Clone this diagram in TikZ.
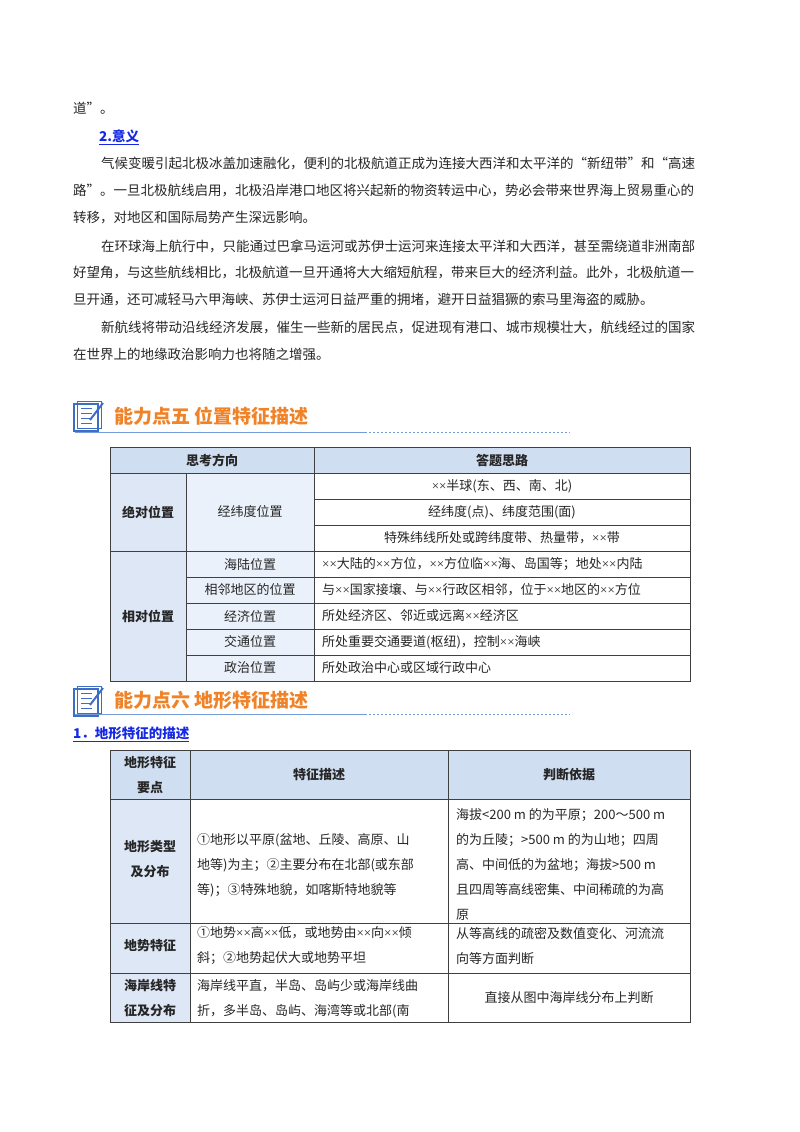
\documentclass[tikz,border=0pt]{standalone}
\usepackage{fontspec}
\setmainfont{Noto Sans CJK SC}
\newfontfamily\lat{Liberation Serif}
\newcommand\XX{{\lat\char"D7\char"D7}}
\XeTeXlinebreaklocale "zh"
\XeTeXlinebreakskip=0pt plus 3pt
\definecolor{hdr}{RGB}{208,222,242}
\definecolor{side}{RGB}{222,231,246}
\definecolor{lnk}{RGB}{20,40,230}
\definecolor{org}{RGB}{240,130,40}
\definecolor{icn}{RGB}{60,110,200}
\begin{document}
\begin{tikzpicture}[x=1pt,y=-1pt,
  txt/.style={anchor=west,inner sep=0pt,font=\fontsize{13.5pt}{16pt}\selectfont,text=black!85},
  cel/.style={inner sep=0pt,font=\fontsize{13pt}{16pt}\selectfont,text=black!85},
  celb/.style={cel,font=\fontsize{13pt}{16pt}\selectfont\bfseries},
  grid/.style={draw=black!75,line width=0.9pt},
  head/.style={anchor=west,inner sep=0pt,text=org,font=\fontsize{19pt}{22pt}\selectfont\bfseries}]
\useasboundingbox (0,0) rectangle (800,1132);
\fill[white] (0,0) rectangle (800,1132);
\newcommand\fl[1]{\makebox[660pt][s]{#1}}
\newcommand\fli[1]{\makebox[632pt][s]{#1}}
% body text
\node[txt] (l0) at (73,108) {道”。};
\node[txt,text=lnk,font=\fontsize{13.5pt}{16pt}\selectfont\bfseries] (l1) at (99,137) {\underline{2.意义}};
\node[txt] (l2) at (101,163) {\fli{气候变暖引起北极冰盖加速融化，便利的北极航道正成为连接大西洋和太平洋的“新纽带”和“高速}};
\node[txt] (l3) at (73,190) {\fl{路”。一旦北极航线启用，北极沿岸港口地区将兴起新的物资转运中心，势必会带来世界海上贸易重心的}};
\node[txt] (l4) at (73,218) {转移，对地区和国际局势产生深远影响。};
\node[txt] (l5) at (101,246) {\fli{在环球海上航行中，只能通过巴拿马运河或苏伊士运河来连接太平洋和大西洋，甚至需绕道非洲南部}};
\node[txt] (l6) at (73,272) {\fl{好望角，与这些航线相比，北极航道一旦开通将大大缩短航程，带来巨大的经济利益。此外，北极航道一}};
\node[txt] (l7) at (73,300) {旦开通，还可减轻马六甲海峡、苏伊士运河日益严重的拥堵，避开日益猖獗的索马里海盗的威胁。};
\node[txt] (l8) at (101,327) {\fli{新航线将带动沿线经济发展，催生一些新的居民点，促进现有港口、城市规模壮大，航线经过的国家}};
\node[txt] (l9) at (73,354) {在世界上的地缘政治影响力也将随之增强。};
% heading icons
\foreach \yy/\nm in {400/a,685/b}{
  \draw[icn,line width=1.2pt,fill=white] (74,\yy+4) rectangle (98,\yy+31);
  \draw[icn,line width=1pt] (77,\yy+1) rectangle (101,\yy+28);
  \foreach \k in {8,13,18,23} \draw[icn,line width=1pt] (81,\yy+\k) -- (92,\yy+\k);
  \draw[icn,line width=2pt] (90,\yy+20) -- (103,\yy+3);
}
\node[head] (h5) at (114,416) {能力点五 位置特征描述};
\draw[icn!70,line width=0.8pt] (75,432) -- (365,432);
\draw[icn!70,line width=0.8pt,dash pattern=on 2pt off 2pt] (365,432) -- (570,432);
\node[head] (h6) at (114,700) {能力点六 地形特征描述};
\draw[icn!70,line width=0.8pt] (75,714) -- (365,714);
\draw[icn!70,line width=0.8pt,dash pattern=on 2pt off 2pt] (365,714) -- (570,714);
\node[txt,text=lnk,font=\fontsize{13.5pt}{16pt}\selectfont\bfseries] (s1) at (73,734) {\underline{1．地形特征的描述}};
% table 1
\fill[hdr] (110,447) rectangle (690,473);
\fill[side] (110,473) rectangle (186,681);
\fill[side!60] (186,473) rectangle (314,681);
\draw[grid] (110,447) rectangle (690,681);
\foreach \yy in {473,551} \draw[grid] (110,\yy) -- (690,\yy);
\foreach \yy in {499,525} \draw[grid] (314,\yy) -- (690,\yy);
\foreach \yy in {577,603,629,655} \draw[grid] (186,\yy) -- (690,\yy);
\draw[grid] (314,447) -- (314,681);
\draw[grid] (186,473) -- (186,681);
\node[celb] (t1h1) at (212,460) {思考方向};
\node[celb] (t1h2) at (502,460) {答题思路};
\node[celb] (t1a) at (148,512) {绝对位置};
\node[celb] (t1b) at (148,616) {相对位置};
\node[cel] (t1c) at (250,512) {经纬度位置};
\node[cel] (t1r1) at (502,486) {\XX 半球(东、西、南、北)};
\node[cel] (t1r2) at (502,512) {经纬度(点)、纬度范围(面)};
\node[cel] (t1r3) at (502,538) {特殊纬线所处或跨纬度带、热量带，\XX 带};
\foreach \yy/\a/\b [count=\i] in {564/海陆位置/\XX 大陆的\XX 方位，\XX 方位临\XX 海、岛国等；地处\XX 内陆,
  590/相邻地区的位置/与\XX 国家接壤、与\XX 行政区相邻，位于\XX 地区的\XX 方位,
  616/经济位置/所处经济区、邻近或远离\XX 经济区,
  642/交通位置/所处重要交通要道(枢纽)，控制\XX 海峡,
  668/政治位置/所处政治中心或区域行政中心}{
  \node[cel] (t1l\i) at (250,\yy) {\a};
  \node[cel,anchor=west] (t1t\i) at (322,\yy) {\b};
}
% table 2
\fill[hdr] (110,750) rectangle (690,799);
\fill[side] (110,799) rectangle (190,1022);
\draw[grid] (110,750) rectangle (690,1022);
\foreach \yy in {799,923,973} \draw[grid] (110,\yy) -- (690,\yy);
\foreach \xx in {190,448} \draw[grid] (\xx,750) -- (\xx,1022);
\node[celb,align=center,font=\fontsize{13pt}{25pt}\selectfont\bfseries] (t2h0) at (150,775) {地形特征\\要点};
\node[celb] (t2h1) at (319,775) {特征描述};
\node[celb] (t2h2) at (569,775) {判断依据};
\node[celb,align=center,font=\fontsize{13pt}{25pt}\selectfont\bfseries] (t2a) at (150,859) {地形类型\\及分布};
\node[celb] (t2b) at (150,946) {地势特征};
\node[celb,align=center,font=\fontsize{13pt}{25pt}\selectfont\bfseries] (t2c) at (150,998) {海岸线特\\征及分布};
\node[cel,anchor=west,align=left,font=\fontsize{13pt}{25pt}\selectfont] (t2a1) at (197,865) {①地形以平原(盆地、丘陵、高原、山\\地等)为主；②主要分布在北部(或东部\\等)；③特殊地貌，如喀斯特地貌等};
\node[cel,anchor=west,align=left,font=\fontsize{13pt}{25pt}\selectfont] (t2a2) at (456,865) {海拔<200 m 的为平原；200～500 m\\的为丘陵；>500 m 的为山地；四周\\高、中间低的为盆地；海拔>500 m\\且四周等高线密集、中间稀疏的为高\\原};
\node[cel,anchor=west,align=left,font=\fontsize{13pt}{25pt}\selectfont] (t2b1) at (197,946) {①地势\XX 高\XX 低，或地势由\XX 向\XX 倾\\斜；②地势起伏大或地势平坦};
\node[cel,anchor=west,align=left,font=\fontsize{13pt}{25pt}\selectfont] (t2b2) at (456,946) {从等高线的疏密及数值变化、河流流\\向等方面判断};
\node[cel,anchor=west,align=left,font=\fontsize{13pt}{25pt}\selectfont] (t2c1) at (197,999) {海岸线平直，半岛、岛屿少或海岸线曲\\折，多半岛、岛屿、海湾等或北部(南};
\node[cel] (t2c2) at (569,998) {直接从图中海岸线分布上判断};
\end{tikzpicture}
\end{document}
